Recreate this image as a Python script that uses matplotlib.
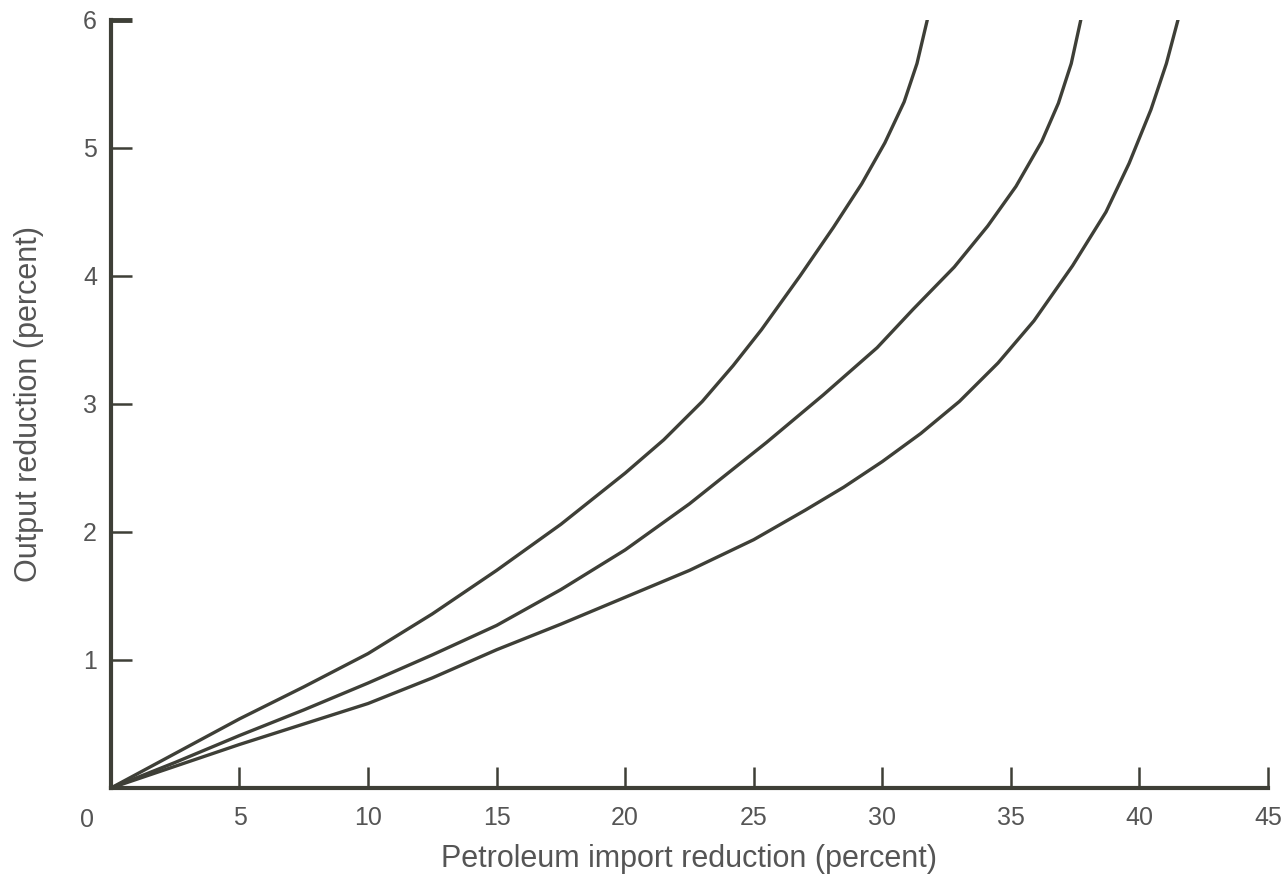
import matplotlib.pyplot as plt

# values (x: percent import reduction, y: percent output reduction)
upper_x = [0, 2.5, 5, 7.5, 10, 12.5, 15, 17.5, 20, 21.5, 23, 24.2, 25.3, 26.8, 28.1,
           29.2, 30.1, 30.85, 31.35, 31.75]
upper_y = [0, 0.27, 0.54, 0.79, 1.05, 1.36, 1.70, 2.06, 2.46, 2.72, 3.02, 3.30, 3.58, 4.00, 4.38,
           4.72, 5.04, 5.36, 5.66, 6.0]

middle_x = [0, 2.5, 5, 7.5, 10, 12.5, 15, 17.5, 20, 22.5, 25.5, 27.7, 29.8, 31.2, 32.8,
            34.1, 35.2, 36.2, 36.85, 37.35, 37.72]
middle_y = [0, 0.20, 0.41, 0.61, 0.82, 1.04, 1.27, 1.55, 1.86, 2.22, 2.70, 3.07, 3.44, 3.74, 4.07,
            4.39, 4.70, 5.05, 5.35, 5.66, 6.0]

lower_x = [0, 2.5, 5, 7.5, 10, 12.5, 15, 17.5, 20, 22.5, 25, 27, 28.5, 30, 31.5, 33,
           34.5, 35.9, 37.4, 38.7, 39.6, 40.45, 41.05, 41.5]
lower_y = [0, 0.17, 0.34, 0.50, 0.66, 0.86, 1.08, 1.28, 1.49, 1.70, 1.94, 2.17, 2.35, 2.55, 2.77, 3.02,
           3.32, 3.65, 4.08, 4.50, 4.88, 5.30, 5.66, 6.0]

x_ticks = [5, 10, 15, 20, 25, 30, 35, 40, 45]
y_ticks = [1, 2, 3, 4, 5, 6]

line_color = "#3e3f37"
text_color = "#555555"

plt.rcParams["font.family"] = ["Liberation Sans", "DejaVu Sans"]

fig = plt.figure(figsize=(12.87, 8.84), dpi=100)
ax = fig.add_axes([0.0862, 0.1086, 0.899, 0.8688])

for xs, ys in [(upper_x, upper_y), (middle_x, middle_y), (lower_x, lower_y)]:
    ax.plot(xs, ys, color=line_color, linewidth=2.4, solid_joinstyle="round",
            solid_capstyle="round")

ax.set_xlim(0, 45)
ax.set_ylim(0, 6)

for side in ["top", "right"]:
    ax.spines[side].set_visible(False)
for side in ["left", "bottom"]:
    ax.spines[side].set_color(line_color)
    ax.spines[side].set_linewidth(3)

ax.set_xticks(x_ticks)
ax.set_yticks(y_ticks)
ax.tick_params(direction="in", length=15, width=1.8, color=line_color,
               labelsize=18, labelcolor=text_color)
ax.tick_params(axis="x", pad=13)
ax.tick_params(axis="y", pad=10)
ax.yaxis.get_major_ticks()[-1].tick1line.set_markeredgewidth(3.5)

ax.annotate("0", xy=(0, 0), xytext=(-17, -23), textcoords="offset points",
            ha="center", va="center", fontsize=18, color=text_color)

ax.set_xlabel("Petroleum import reduction (percent)", fontsize=22, color=text_color, labelpad=10)
ax.set_ylabel("Output reduction (percent)", fontsize=22, color=text_color, labelpad=28)

fig.savefig("out.png", dpi=100)
